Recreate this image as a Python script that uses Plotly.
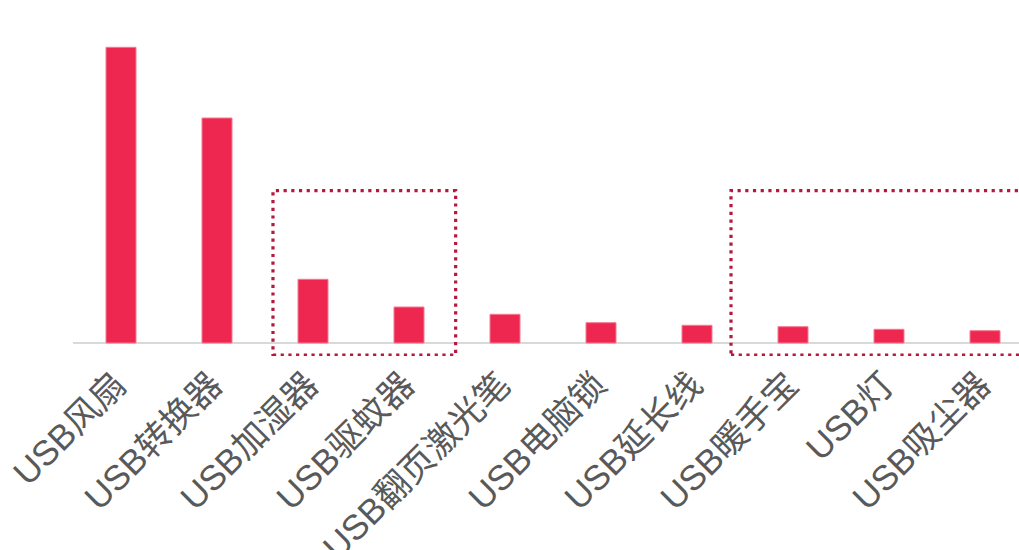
import plotly.graph_objects as go

# Product categories and their sales figures
categories = ["USB风扇", "USB转换器", "USB加湿器", "USB驱蚊器", "USB翻页激光笔",
              "USB电脑锁", "USB延长线", "USB暖手宝", "USB灯", "USB吸尘器"]
sales = [295.7, 225.0, 63.7, 36.0, 28.7, 20.3, 17.7, 16.3, 13.7, 12.3]

# Highlighted category spans (index ranges on the category axis) and their height
highlight_spans = [(1.583, 3.486), (6.354, 9.8)]
highlight_top = 152.3
highlight_bottom = -12.0

BAR_COLOR = "#EE2750"
BOX_COLOR = "#B5173E"

fig = go.Figure(
    go.Bar(
        x=list(range(len(categories))),
        y=sales,
        width=0.3125,
        marker=dict(color=BAR_COLOR, line=dict(color="#F47A92", width=1)),
        hoverinfo="skip",
    )
)

for x0, x1 in highlight_spans:
    fig.add_shape(
        type="rect", xref="x", yref="y",
        x0=x0, x1=x1, y0=highlight_bottom, y1=highlight_top,
        line=dict(color=BOX_COLOR, width=3.2, dash="3.2px,4.5px"),
        fillcolor="rgba(0,0,0,0)", layer="above",
    )

fig.update_layout(
    width=1019, height=550,
    margin=dict(l=73, r=0, t=20, b=194),
    plot_bgcolor="white", paper_bgcolor="white",
    showlegend=False,
    font=dict(family="Liberation Sans, Noto Sans CJK SC, sans-serif", color="#595959"),
)
fig.update_xaxes(
    range=[-0.5, 9.354],
    tickmode="array",
    tickvals=list(range(len(categories))),
    ticktext=categories,
    tickangle=-45,
    ticklabelshift=-5,
    tickfont=dict(size=35, color="#595959"),
    showgrid=False, showline=False, ticks="",
    automargin=False, fixedrange=True,
)
fig.update_yaxes(
    range=[-13, 323],
    showgrid=False, showticklabels=False, showline=False, ticks="",
    zeroline=True, zerolinecolor="#D9D9D9", zerolinewidth=2,
    automargin=False, fixedrange=True,
)

fig.write_html("out.html", config={"displayModeBar": False})
